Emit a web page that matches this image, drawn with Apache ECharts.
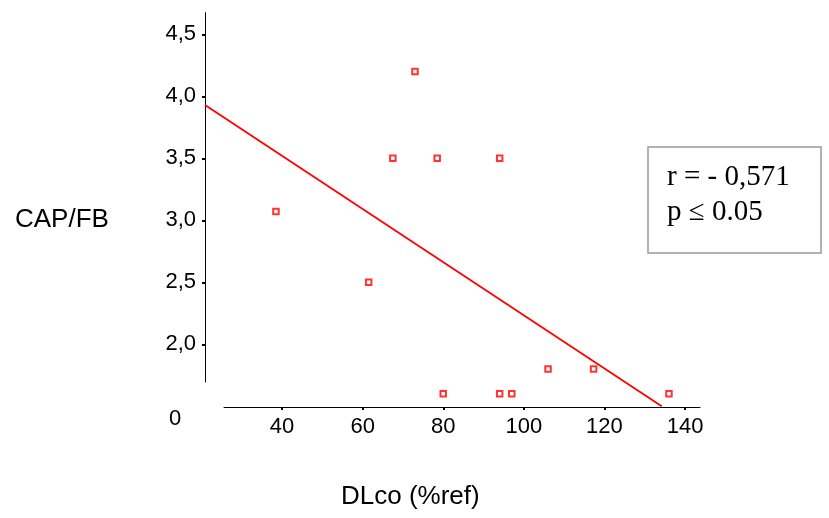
<!DOCTYPE html>
<html>
<head>
<meta charset="utf-8">
<script src="https://cdn.jsdelivr.net/npm/echarts@6/dist/echarts.min.js"></script>
<style>html,body{margin:0;padding:0;background:#fff}#c{width:829px;height:518px}</style>
</head>
<body>
<div id="c"></div>
<script>
// Data
const dlco = [38.5, 61.5, 67.5, 73, 78.5, 80, 94, 94, 97, 106, 117.3, 136];
const capfb = [3.07, 2.5, 3.5, 4.2, 3.5, 1.6, 3.5, 1.6, 1.6, 1.8, 1.8, 1.6];
const fitX = [20.9, 134.2];
const fitY = [3.93, 1.5];
const xTicks = [40, 60, 80, 100, 120, 140];
const yTicks = [2.0, 2.5, 3.0, 3.5, 4.0, 4.5];
const statLines = ['r = - 0,571', 'p \u2264 0.05'];

const chart = echarts.init(document.getElementById('c'));
const sans = 'Liberation Sans, Arial, sans-serif';
const serif = 'Liberation Serif, Times New Roman, serif';

chart.setOption({
  animation: false,
  backgroundColor: '#fff',
  grid: [
    {left: 205, top: 12.7, width: 495, height: 394.3},
    {left: 224, top: 12.7, width: 476, height: 394.3},
    {left: 205, top: 12.7, width: 495, height: 369.3}
  ],
  xAxis: [
    {gridIndex: 0, type: 'value', min: 20.9, max: 143.7, show: false},
    {gridIndex: 1, type: 'value', min: 25.6, max: 143.7,
      axisLine: {show: true, lineStyle: {color: '#000', width: 1}},
      axisTick: {show: true, length: 3, customValues: xTicks, lineStyle: {color: '#000', width: 2}},
      axisLabel: {customValues: xTicks, color: '#000', fontSize: 22, fontFamily: sans, margin: 9},
      splitLine: {show: false}},
    {gridIndex: 2, type: 'value', min: 20.9, max: 143.7, show: false}
  ],
  yAxis: [
    {gridIndex: 0, type: 'value', min: 1.494, max: 4.674, show: false},
    {gridIndex: 1, type: 'value', min: 1.494, max: 4.674, show: false},
    {gridIndex: 2, type: 'value', min: 1.696, max: 4.674,
      axisLine: {show: true, lineStyle: {color: '#000', width: 1}},
      axisTick: {show: true, length: 3, customValues: yTicks, lineStyle: {color: '#000', width: 2}},
      axisLabel: {customValues: yTicks, color: '#000', fontSize: 22, fontFamily: sans, margin: 9,
        formatter: v => v.toFixed(1).replace('.', ',')},
      splitLine: {show: false}}
  ],
  series: [
    {type: 'line', xAxisIndex: 0, yAxisIndex: 0, data: fitX.map((x, i) => [x, fitY[i]]),
      symbol: 'none', lineStyle: {color: '#ff0000', width: 1.8}, z: 2},
    {type: 'scatter', xAxisIndex: 0, yAxisIndex: 0, data: dlco.map((x, i) => [x, capfb[i]]),
      symbol: 'rect', symbolSize: 5.5,
      itemStyle: {color: '#fff', borderColor: '#ff0000', borderWidth: 2}, z: 3}
  ],
  graphic: [
    {type: 'text', left: 15, top: 207, style: {text: 'CAP/FB', font: '26px ' + sans, fill: '#000'}},
    {type: 'text', left: 341, top: 484, style: {text: 'DLco (%ref)', font: '26px ' + sans, fill: '#000'}},
    {type: 'text', left: 169, top: 408, style: {text: '0', font: '22px ' + sans, fill: '#000'}},
    {type: 'rect', shape: {x: 648, y: 147, width: 173, height: 106}, style: {fill: '#fff', stroke: '#999', lineWidth: 1.5}},
    {type: 'text', left: 667, top: 163, style: {text: statLines[0], font: '29px ' + serif, fill: '#000'}},
    {type: 'text', left: 667, top: 198, style: {text: statLines[1], font: '29px ' + serif, fill: '#000'}}
  ]
});
</script>
</body>
</html>
